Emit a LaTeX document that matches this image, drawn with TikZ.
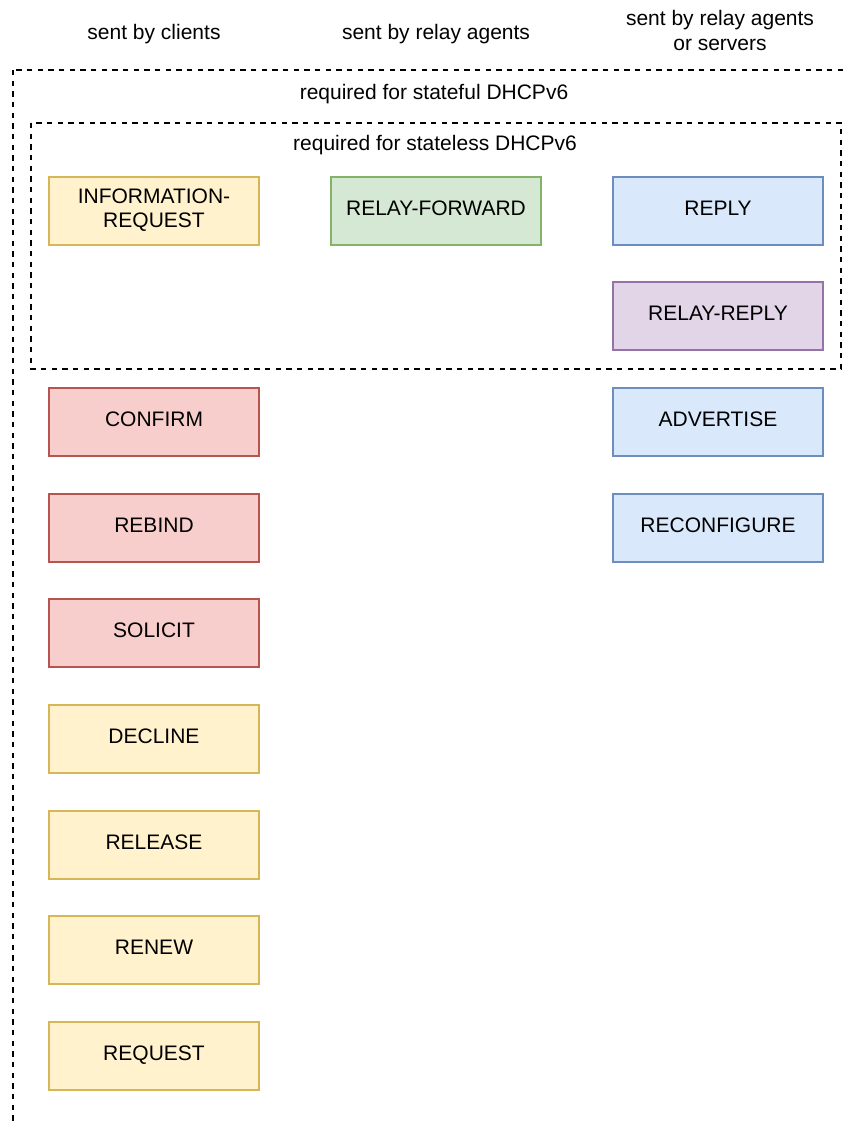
\documentclass[tikz,border=0pt]{standalone}
\usepackage{fontspec}
\setmainfont{Liberation Sans}
\definecolor{yfill}{HTML}{FFF2CC}\definecolor{ydraw}{HTML}{D6B656}
\definecolor{gfill}{HTML}{D5E8D4}\definecolor{gdraw}{HTML}{82B366}
\definecolor{bfill}{HTML}{DAE8FC}\definecolor{bdraw}{HTML}{6C8EBF}
\definecolor{pfill}{HTML}{E1D5E7}\definecolor{pdraw}{HTML}{9673A6}
\definecolor{rfill}{HTML}{F8CECC}\definecolor{rdraw}{HTML}{B85450}
\begin{document}
\begin{tikzpicture}[x=0.75pt,y=-0.75pt,
  txt/.style={font=\fontsize{15.75}{18}\selectfont, inner sep=0pt, align=center},
  msgbox/.style={txt, draw, rectangle, minimum width=157.5pt, minimum height=51.5pt,
    line width=1.4pt, text height=11.25pt, text depth=4.5pt},
  twoline/.style={text height=29.25pt},
  yellowbox/.style={msgbox, fill=yfill, draw=ydraw},
  greenbox/.style={msgbox, fill=gfill, draw=gdraw},
  bluebox/.style={msgbox, fill=bfill, draw=bdraw},
  purplebox/.style={msgbox, fill=pfill, draw=pdraw},
  redbox/.style={msgbox, fill=rfill, draw=rdraw},
  frame/.style={line width=1.2pt, dash pattern=on 4pt off 4pt}]
\useasboundingbox (0,0) rectangle (847,1124);

% stateful frame, running past the page on the right and at the bottom
\begin{scope}
  \clip (0,0) rectangle (847,1124);
  \draw[frame] (13,70) rectangle (880,1170);
\end{scope}
% stateless frame
\draw[frame] (31,123) rectangle (841,369);

% column headings
\node[txt, anchor=base] (hclients) at (154,40) {sent by clients};
\node[txt, anchor=base] (hrelay) at (436,40) {sent by relay agents};
\node[txt, anchor=base] (hservers1) at (720,26) {sent by relay agents};
\node[txt, anchor=base] (hservers2) at (720,51) {or servers};

% frame titles
\node[txt, anchor=base] (tstateful) at (434,99) {required for stateful DHCPv6};
\node[txt, anchor=base] (tstateless) at (435,150) {required for stateless DHCPv6};

% messages sent by clients
\node[yellowbox, twoline] (inforeq) at (154,211) {INFORMATION-\\REQUEST};
\node[redbox] (confirm) at (154,422) {CONFIRM};
\node[redbox] (rebind) at (154,528) {REBIND};
\node[redbox] (solicit) at (154,633) {SOLICIT};
\node[yellowbox] (decline) at (154,739) {DECLINE};
\node[yellowbox] (release) at (154,845) {RELEASE};
\node[yellowbox] (renew) at (154,950) {RENEW};
\node[yellowbox] (request) at (154,1056) {REQUEST};

% messages sent by relay agents
\node[greenbox] (relayfwd) at (436,211) {RELAY-FORWARD};

% messages sent by relay agents or servers
\node[bluebox] (reply) at (718,211) {REPLY};
\node[purplebox] (relayreply) at (718,316) {RELAY-REPLY};
\node[bluebox] (advertise) at (718,422) {ADVERTISE};
\node[bluebox] (reconfigure) at (718,528) {RECONFIGURE};
\end{tikzpicture}
\end{document}
